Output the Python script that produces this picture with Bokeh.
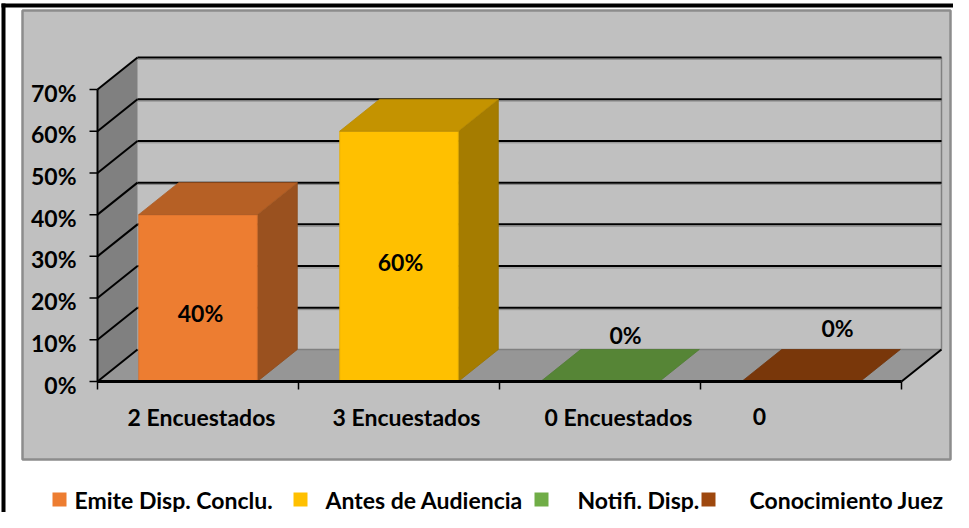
from bokeh.plotting import figure
from bokeh.models import Range1d
from bokeh.core.properties import value
from bokeh.embed import file_html
from bokeh.resources import INLINE

# ---------------- data ----------------
CATEGORIES = ["2 Encuestados", "3 Encuestados", "0 Encuestados", "0"]
SERIES = ["Emite Disp. Conclu.", "Antes de Audiencia", "Notifi. Disp.", "Conocimiento Juez"]
VALUES = [40, 60, 0, 0]
Y_TICKS = [0, 10, 20, 30, 40, 50, 60, 70]
COLORS = ["#ED7D31", "#FFC000", "#70AD47", "#9E480E"]

# ---------------- layout (reference pixel geometry) ----------------
X0_PX, Y0_PX = 105.0, 389.0          # front-left-bottom corner of plot box
CAT_PX = 201.0                        # pixels per category
PPY = (389.0 - 97.0) / 70.0           # pixels per percent
YMAX = 70
DX = 40.0 / CAT_PX                    # depth offset (x, data units)
DY = 32.0 / PPY                       # depth offset (y, data units)
BAR_W = 0.59
FONT = value("Lato")
FS = "23px"

LABEL_POS_PX = [(208, 320), (408, 269), (633, 342), (845, 335)]
CAT_LABEL_X_PX = [209, 414, 626, 767]
CAT_LABEL_Y_PX = 424
LEGEND_SQ_X_PX = [60, 301, 542, 709]
LEGEND_TXT_X_PX = [82, 333, 585, 757]
LEGEND_Y_PX = 507


def X(px):
    return (px - X0_PX) / CAT_PX


def Y(py):
    return (Y0_PX - py) / PPY


def shade(hexcol, f):
    h = hexcol.lstrip("#")
    r, g, b = (int(h[i:i + 2], 16) for i in (0, 2, 4))
    return "#%02x%02x%02x" % (int(r * f), int(g * f), int(b * f))


p = figure(width=953, height=512,
           x_range=Range1d(X(8), X(961)), y_range=Range1d(Y(520), Y(8)),
           output_backend="svg", toolbar_location=None, min_border=0,
           x_axis_type=None, y_axis_type=None,
           background_fill_color="white", border_fill_color="white",
           outline_line_color=None)
p.grid.visible = False

# outer black frame
p.segment(x0=[X(9), X(11)], y0=[Y(13), Y(11)], x1=[X(990), X(11)], y1=[Y(13), Y(560)],
          line_color="black", line_width=4)

# grey chart panel
p.quad(left=X(30), right=X(958), top=Y(18), bottom=Y(467),
       fill_color="#c0c0c0", line_color="#8c8c8c", line_width=2.5)

NC = len(CATEGORIES)

# side wall
p.patch(x=[0, DX, DX, 0], y=[0, DY, YMAX + DY, YMAX], fill_color="#808080", line_color=None)
# floor
p.patch(x=[0, NC, NC + DX, DX], y=[0, 0, DY, DY], fill_color="#969696", line_color=None)

# back-wall right edge and floor back edge (grey)
p.segment(x0=[NC + DX, DX], y0=[DY, DY], x1=[NC + DX, NC + DX], y1=[YMAX + DY, DY],
          line_color="#808080", line_width=1.5)

# gridlines on back wall (with faint shadow) and side wall
gv = [t for t in Y_TICKS if t > 0]
p.segment(x0=[DX] * len(gv), y0=[t + DY - 0.45 for t in gv], x1=[NC + DX] * len(gv),
          y1=[t + DY - 0.45 for t in gv], line_color="#8a8a8a", line_width=1)
p.segment(x0=[DX] * len(gv), y0=[t + DY for t in gv], x1=[NC + DX] * len(gv), y1=[t + DY for t in gv],
          line_color="black", line_width=2)
p.segment(x0=[0] * len(Y_TICKS), y0=Y_TICKS, x1=[DX] * len(Y_TICKS), y1=[t + DY for t in Y_TICKS],
          line_color="black", line_width=2)

# floor right edge diagonal
p.segment(x0=[NC], y0=[0], x1=[NC + DX], y1=[DY], line_color="black", line_width=2)

# bars
for i, (v, c) in enumerate(zip(VALUES, COLORS)):
    L = i + 0.5 - BAR_W / 2
    R = i + 0.5 + BAR_W / 2
    top_c = shade(c, 0.77)
    side_c = shade(c, 0.65)
    if v > 0:
        p.patch(x=[R, R + DX, R + DX, R], y=[0, DY, v + DY, v],
                fill_color=side_c, line_color=shade(c, 0.6), line_width=0.8)
        p.quad(left=L, right=R, bottom=0, top=v, fill_color=c,
               line_color=shade(c, 0.9), line_width=0.8)
    p.patch(x=[L, L + DX, R + DX, R], y=[v, v + DY, v + DY, v],
            fill_color=top_c, line_color=shade(c, 0.72), line_width=0.8)

# axes lines and ticks
p.segment(x0=[0], y0=[0], x1=[0], y1=[YMAX], line_color="black", line_width=2)
p.segment(x0=[0], y0=[0], x1=[NC], y1=[0], line_color="black", line_width=3)
p.segment(x0=[X(97)] * len(Y_TICKS), y0=Y_TICKS, x1=[0] * len(Y_TICKS), y1=Y_TICKS,
          line_color="black", line_width=1.5)
p.segment(x0=list(range(NC + 1)), y0=[0] * (NC + 1), x1=list(range(NC + 1)), y1=[Y(397)] * (NC + 1),
          line_color="black", line_width=1.5)

# y tick labels
p.text(x=[X(84)] * len(Y_TICKS), y=Y_TICKS, text=["%d%%" % t for t in Y_TICKS],
       text_font=FONT, text_font_style="bold", text_font_size=FS,
       text_align="right", text_baseline="middle", y_offset=3, text_color="black")

# category labels
p.text(x=[X(px) for px in CAT_LABEL_X_PX], y=[Y(CAT_LABEL_Y_PX)] * NC, text=CATEGORIES,
       text_font=FONT, text_font_style="bold", text_font_size=FS,
       text_align="center", text_baseline="middle", text_color="black")

# data labels
p.text(x=[X(a) for a, b in LABEL_POS_PX], y=[Y(b) for a, b in LABEL_POS_PX],
       text=["%d%%" % v for v in VALUES],
       text_font=FONT, text_font_style="bold", text_font_size=FS,
       text_align="center", text_baseline="middle", text_color="black")

# legend
for sx, tx, name, c in zip(LEGEND_SQ_X_PX, LEGEND_TXT_X_PX, SERIES, COLORS):
    p.quad(left=X(sx), right=X(sx + 14), top=Y(LEGEND_Y_PX - 7), bottom=Y(LEGEND_Y_PX + 7),
           fill_color=c, line_color=None)
    p.text(x=[X(tx)], y=[Y(LEGEND_Y_PX)], text=[name],
           text_font=FONT, text_font_style="bold", text_font_size=FS,
           text_align="left", text_baseline="middle", text_color="black")

open("out.html", "w").write(file_html(p, INLINE))
